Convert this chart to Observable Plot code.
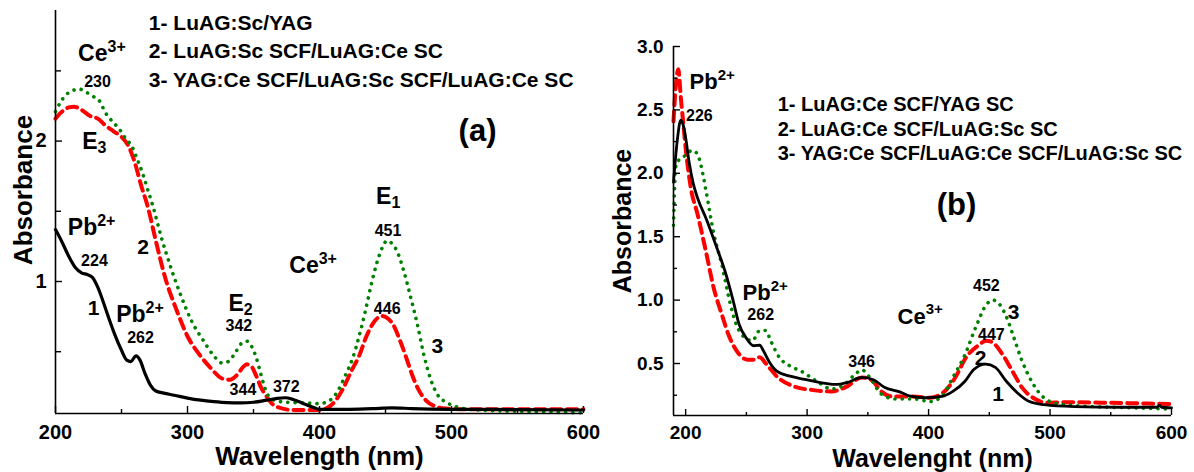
<!DOCTYPE html>
<html><head><meta charset="utf-8">
<script src="https://cdn.jsdelivr.net/npm/d3@7"></script>
<script src="https://cdn.jsdelivr.net/npm/@observablehq/plot@0.6"></script>
<style>
body{margin:0;background:#fff;}
#wrap{position:relative;width:1194px;height:472px;overflow:hidden;background:#fff;}
#wrap svg{position:absolute;top:0;}
</style></head><body><div id="wrap"></div>
<script>
// ---------- Panel (a) data ----------
const a1X = [200,205,210,215,220,224,228,232,236,240,245,250,254,257,261,264,268,272,276,282,290,300,310,320,330,340,350,360,368,374,380,388,395,400,420,440,455,470,500,550,600];
const a1Y = [1.37,1.28,1.18,1.10,1.06,1.05,1.03,0.96,0.86,0.75,0.62,0.51,0.44,0.43,0.47,0.44,0.34,0.26,0.22,0.205,0.19,0.17,0.155,0.145,0.138,0.136,0.14,0.155,0.168,0.172,0.16,0.13,0.105,0.09,0.09,0.095,0.10,0.095,0.09,0.088,0.085];
const a2X = [200,205,210,214,220,226,232,238,244,250,255,260,265,270,276,283,292,300,309,318,326,332,338,342,345,348,352,356,360,364,370,380,390,400,406,412,418,424,430,436,442,447,452,456,461,466,470,475,481,488,495,510,550,600];
const a2Y = [2.16,2.21,2.24,2.245,2.22,2.18,2.16,2.11,2.07,2.03,1.97,1.85,1.68,1.53,1.29,1.03,0.79,0.61,0.48,0.38,0.31,0.30,0.34,0.39,0.41,0.40,0.33,0.24,0.18,0.13,0.10,0.085,0.085,0.085,0.10,0.15,0.24,0.36,0.47,0.62,0.72,0.755,0.735,0.69,0.58,0.45,0.34,0.23,0.15,0.11,0.095,0.09,0.09,0.09];
const a3X = [200,204,208,213,218,223,228,233,238,243,248,253,258,262,266,270,274,280,287,295,303,312,320,326,331,336,341,345,349,352,355,358,361,366,375,390,400,406,410,415,420,425,430,435,439,444,448,451,455,459,464,469,474,479,484,489,497,507,520,550,600];
const a3Y = [2.21,2.28,2.33,2.36,2.37,2.35,2.32,2.29,2.20,2.14,2.09,2.02,1.96,1.87,1.77,1.65,1.53,1.32,1.11,0.90,0.72,0.58,0.47,0.42,0.43,0.49,0.56,0.575,0.53,0.46,0.36,0.26,0.19,0.155,0.14,0.135,0.13,0.145,0.17,0.24,0.34,0.45,0.61,0.80,0.97,1.15,1.25,1.29,1.27,1.21,1.07,0.89,0.70,0.48,0.31,0.20,0.135,0.10,0.085,0.075,0.065];

// ---------- Panel (b) data ----------
const b1X = [190,193,196,198,200,203,206,210,217,225,233,239,244,250,256,261,264,269,275,286,298,311,323,333,345,355,364,375,386,398,411,420,430,437,447,455,464,473,483,495,520,560,588,590,592,600];
const b1Y = [1.93,2.25,2.42,2.38,2.28,2.08,1.93,1.80,1.64,1.43,1.21,1.00,0.81,0.70,0.64,0.645,0.60,0.51,0.44,0.40,0.375,0.35,0.335,0.35,0.39,0.37,0.31,0.28,0.24,0.23,0.24,0.28,0.36,0.45,0.495,0.47,0.36,0.27,0.20,0.175,0.16,0.155,0.155,0.17,0.155,0.15];
const b2X = [190,192,194,196,198,200,204,210,217,223,230,236,242,251,257,261,266,276,289,305,320,333,345,353,361,370,386,401,412,422,431,442,447,452,461,469,477,486,498,511,550,600];
const b2Y = [2.41,2.70,2.82,2.60,2.40,2.20,1.90,1.67,1.37,1.10,0.88,0.71,0.60,0.53,0.53,0.55,0.50,0.39,0.32,0.29,0.28,0.32,0.39,0.37,0.28,0.24,0.24,0.23,0.27,0.39,0.55,0.65,0.68,0.67,0.57,0.44,0.31,0.23,0.19,0.195,0.19,0.18];
const b3X = [190,192,196,200,205,208,211,217,223,230,236,242,248,255,261,266,270,277,286,295,308,320,330,339,345,353,361,373,389,401,411,420,430,439,448,453,456,464,470,477,486,495,508,536,570,600];
const b3Y = [1.59,2.06,2.12,2.14,2.18,2.17,2.12,1.85,1.53,1.27,1.00,0.80,0.71,0.68,0.76,0.76,0.68,0.55,0.48,0.44,0.36,0.30,0.33,0.41,0.45,0.37,0.26,0.22,0.22,0.20,0.24,0.39,0.57,0.79,0.97,1.00,0.99,0.87,0.71,0.52,0.34,0.23,0.18,0.16,0.15,0.14];

// ---------- Tick labels ----------
const aXTicks = [200,300,400,500,600];
const aXMinor = [250,350,450,550];
const aYTicks = [1,2];
const aYMinor = [0.5,1.5,2.5];
const bXTicks = [200,300,400,500,600];
const bXMinor = [250,350,450,550];
const bYTicks = [0.5,1.0,1.5,2.0,2.5,3.0];
const bYMinor = [0.25,0.75,1.25,1.75,2.25,2.75];

// ---------- Texts ----------
const aTitleX = "Wavelength (nm)";
const bTitleX = "Wavelenght (nm)";
const titleY = "Absorbance";
const aLegend = [
  {x:270.7, y:2.838, text:"1- LuAG:Sc/YAG"},
  {x:270.7, y:2.638, text:"2- LuAG:Sc SCF/LuAG:Ce SC"},
  {x:270.7, y:2.435, text:"3- YAG:Ce SCF/LuAG:Sc SCF/LuAG:Ce SC"}
];
const bLegend = [
  {x:275.8, y:2.54, text:"1- LuAG:Ce SCF/YAG SC"},
  {x:275.8, y:2.345, text:"2- LuAG:Ce SCF/LuAG:Sc SC"},
  {x:275.8, y:2.154, text:"3- YAG:Ce SCF/LuAG:Ce SCF/LuAG:Sc SC"}
];
// ion / transition labels (main text ends at x; superscript / subscript starts there)
const aIons = [
  {x:239.4, y:2.624, text:"Ce", sup:"3+"},
  {x:231.6, y:1.385, text:"Pb", sup:"2+"},
  {x:268.2, y:0.765, text:"Pb", sup:"2+"},
  {x:399.4, y:1.114, text:"Ce", sup:"3+"}
];
const aLevels = [
  {x:231.8, y:1.997, text:"E", sub:"3"},
  {x:342.7, y:0.843, text:"E", sub:"2"},
  {x:454.5, y:1.606, text:"E", sub:"1"}
];
const aPeaks = [
  {x:231.8, y:2.42, text:"230"},
  {x:229.5, y:1.15, text:"224"},
  {x:264.4, y:0.598, text:"262"},
  {x:338.9, y:0.687, text:"342"},
  {x:342.0, y:0.231, text:"344"},
  {x:374.8, y:0.247, text:"372"},
  {x:451.9, y:1.363, text:"451"},
  {x:451.3, y:0.808, text:"446"}
];
const aCurveIds = [
  {x:266.3, y:1.242, text:"2"},
  {x:228.8, y:0.808, text:"1"},
  {x:489.2, y:0.539, text:"3"}
];
const aPanel = [{x:519.7, y:2.068, text:"(a)"}];

const bIons = [
  {x:226.4, y:2.72, text:"Pb", sup:"2+"},
  {x:270.0, y:1.056, text:"Pb", sup:"2+"},
  {x:397.6, y:0.871, text:"Ce", sup:"3+"}
];
const bPeaks = [
  {x:211.3, y:2.456, text:"226"},
  {x:261.8, y:0.886, text:"262"},
  {x:344.9, y:0.516, text:"346"},
  {x:447.6, y:1.109, text:"452"},
  {x:451.7, y:0.728, text:"447"}
];
const bCurveIds = [
  {x:470.0, y:0.905, text:"3"},
  {x:442.8, y:0.542, text:"2"},
  {x:457.2, y:0.261, text:"1"}
];
const bPanel = [{x:423, y:1.746, text:"(b)"}];

// ---------- helpers ----------
const FONT = "'Liberation Sans', Arial, Helvetica, sans-serif";
const zip = (xs, ys) => xs.map((x, i) => ({x, y: ys[i]}));
const RED = "#ff0000", GREEN = "#008000";

function curves(s1, s2, s3, bw) {
  return [
    Plot.line(s2, {x:"x", y:"y", stroke:RED, strokeWidth:4, strokeDasharray:"10,6", curve:"monotone-x"}),
    Plot.line(s3, {x:"x", y:"y", stroke:GREEN, strokeWidth:3.6, strokeDasharray:"0.1,7.2", strokeLinecap:"round", curve:"monotone-x"}),
    Plot.line(s1, {x:"x", y:"y", stroke:"black", strokeWidth:bw, curve:"monotone-x"})
  ];
}
function scripted(arr, size, subSize, key, dy) {
  return [
    Plot.text(arr, {x:"x", y:"y", text:"text", textAnchor:"end", fontSize:size, fill:"black"}),
    Plot.text(arr, {x:"x", y:"y", text:key, textAnchor:"start", fontSize:subSize, dy, fill:"black"})
  ];
}

// ---------- Panel (a) ----------
const aW = 600, aH = 472, aML = 55, aMR = 17, aMT = 10, aMB = 59;
const aPW = aW - aML - aMR, aPH = aH - aMT - aMB;
const plotA = Plot.plot({
  width: aW, height: aH,
  marginLeft: aML, marginRight: aMR, marginTop: aMT, marginBottom: aMB,
  x: {domain: [200, 600]},
  y: {domain: [0.06, 2.93]},
  style: {fontFamily: FONT, fontWeight: "bold", color: "black", background: "white", overflow: "visible"},
  marks: [
    ...curves(zip(a1X, a1Y), zip(a2X, a2Y), zip(a3X, a3Y), 3.2),
    Plot.ruleX([200], {stroke:"black", strokeWidth:1.6}),
    Plot.ruleY([0.06], {stroke:"black", strokeWidth:1.6}),
    Plot.tickX(aXTicks, {x: d => d, insetTop: aPH - 7, strokeWidth: 1.4}),
    Plot.tickX(aXMinor, {x: d => d, insetTop: aPH - 4, strokeWidth: 1.4}),
    Plot.tickY(aYTicks, {y: d => d, insetRight: aPW - 7, strokeWidth: 1.4}),
    Plot.tickY(aYMinor, {y: d => d, insetRight: aPW - 6, strokeWidth: 1.4}),
    Plot.axisX({ticks: aXTicks, tickSize: 0, tickPadding: 11, fontSize: 20, label: null}),
    Plot.axisY({ticks: aYTicks, tickSize: 0, tickPadding: 9, fontSize: 20, tickFormat: d3.format("d"), label: null}),
    Plot.text([aTitleX], {frameAnchor: "bottom", text: d => d, dy: 43, fontSize: 26, textAnchor: "middle", lineAnchor: "middle"}),
    Plot.text([titleY], {frameAnchor: "left", text: d => d, rotate: -90, dx: -32, dy: -22, fontSize: 26, textAnchor: "middle", lineAnchor: "middle"}),
    Plot.text(aLegend, {x:"x", y:"y", text:"text", textAnchor:"start", fontSize:21}),
    ...scripted(aIons, 23, 16, "sup", -7),
    ...scripted(aLevels, 23, 16, "sub", 6.5),
    Plot.text(aPeaks, {x:"x", y:"y", text:"text", fontSize:16}),
    Plot.text(aCurveIds, {x:"x", y:"y", text:"text", fontSize:21}),
    Plot.text(aPanel, {x:"x", y:"y", text:"text", fontSize:31})
  ]
});

// ---------- Panel (b) ----------
const bW = 594, bH = 472, bML = 73, bMR = 23, bMT = 46, bMB = 57;
const bPW = bW - bML - bMR, bPH = bH - bMT - bMB;
const plotB = Plot.plot({
  width: bW, height: bH,
  marginLeft: bML, marginRight: bMR, marginTop: bMT, marginBottom: bMB,
  x: {domain: [190, 600]},
  y: {domain: [0.09, 3.0]},
  style: {fontFamily: FONT, fontWeight: "bold", color: "black", background: "white", overflow: "visible"},
  marks: [
    ...curves(zip(b1X, b1Y), zip(b2X, b2Y), zip(b3X, b3Y), 2.8),
    Plot.ruleX([190], {stroke:"black", strokeWidth:1.6}),
    Plot.ruleY([0.09], {stroke:"black", strokeWidth:1.6}),
    Plot.tickX(bXTicks, {x: d => d, insetTop: bPH - 6, strokeWidth: 1.4}),
    Plot.tickX(bXMinor, {x: d => d, insetTop: bPH - 3, strokeWidth: 1.4}),
    Plot.tickY(bYTicks, {y: d => d, insetRight: bPW - 7, strokeWidth: 1.4}),
    Plot.tickY(bYMinor, {y: d => d, insetRight: bPW - 4, strokeWidth: 1.4}),
    Plot.axisX({ticks: bXTicks, tickSize: 0, tickPadding: 10, fontSize: 19, label: null}),
    Plot.axisY({ticks: bYTicks, tickSize: 0, tickPadding: 10, fontSize: 19, tickFormat: d3.format(".1f"), label: null}),
    Plot.text([bTitleX], {frameAnchor: "bottom", text: d => d, dx: 10, dy: 43, fontSize: 25, textAnchor: "middle", lineAnchor: "middle"}),
    Plot.text([titleY], {frameAnchor: "left", text: d => d, rotate: -90, dx: -51, dy: -10, fontSize: 25, textAnchor: "middle", lineAnchor: "middle"}),
    Plot.text(bLegend, {x:"x", y:"y", text:"text", textAnchor:"start", fontSize:20}),
    ...scripted(bIons, 22, 15, "sup", -7),
    Plot.text(bPeaks, {x:"x", y:"y", text:"text", fontSize:16}),
    Plot.text(bCurveIds, {x:"x", y:"y", text:"text", fontSize:21}),
    Plot.text(bPanel, {x:"x", y:"y", text:"text", fontSize:31})
  ]
});

const wrap = document.getElementById("wrap");
plotA.style.left = "0px";
plotB.style.left = "600px";
wrap.appendChild(plotA);
wrap.appendChild(plotB);
</script>
</body></html>
